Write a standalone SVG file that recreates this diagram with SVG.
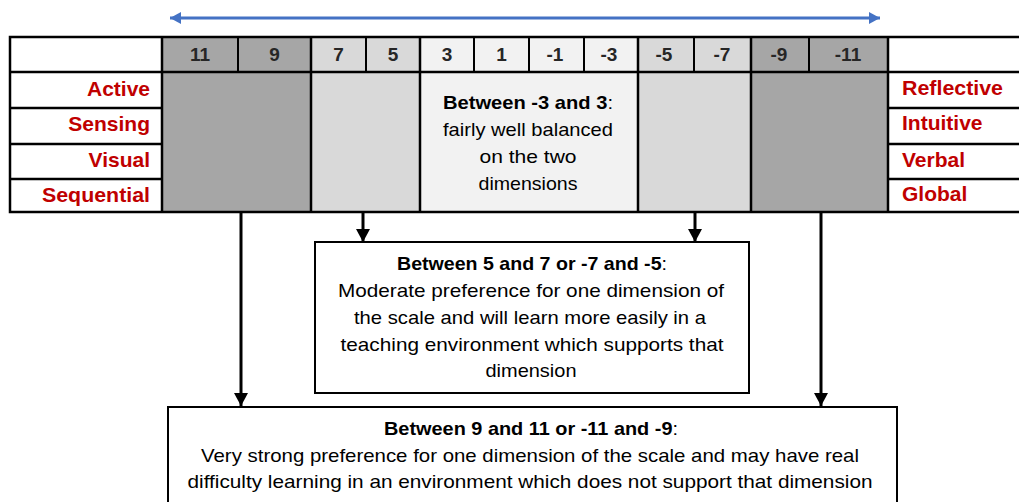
<svg xmlns="http://www.w3.org/2000/svg" width="1019" height="502" viewBox="0 0 1019 502">
<style>
.dark{fill:#a6a6a6}
.light{fill:#d9d9d9}
.pale{fill:#f2f2f2}
.grid{stroke:#000;stroke-width:2.5;fill:none}
.thin{stroke:#000;stroke-width:2;fill:none}
.num{font-family:"Liberation Sans",Arial,sans-serif;font-weight:bold;font-size:19px;fill:#262626;text-anchor:middle}
.lab{font-family:"Liberation Sans",Arial,sans-serif;font-weight:bold;font-size:21px;fill:#c00000}
.body{font-family:"Liberation Sans",Arial,sans-serif;font-size:19px;fill:#000;text-anchor:middle}
.b{font-weight:bold}
.conn{stroke:#000;stroke-width:3;fill:none}
.box{fill:#fff;stroke:#000;stroke-width:2}
</style>
<defs>
<marker id="ah" markerUnits="userSpaceOnUse" markerWidth="14" markerHeight="14" viewBox="0 0 14 14" refX="13" refY="7" orient="auto">
<polygon points="0,0 13,7 0,14" fill="#000"/>
</marker>
<marker id="bh" markerUnits="userSpaceOnUse" markerWidth="12" markerHeight="12" viewBox="0 0 12 12" refX="11" refY="6" orient="auto-start-reverse">
<polygon points="0,0 11,6 0,12" fill="#4472c4"/>
</marker>
</defs>
<rect width="1019" height="502" fill="#fff"/>

<g id="scale-arrow">
<line x1="170" y1="18" x2="880" y2="18" stroke="#4472c4" stroke-width="3" marker-start="url(#bh)" marker-end="url(#bh)"/>
</g>

<g id="table">
<rect class="dark" x="162" y="37" width="149" height="175"/>
<rect class="light" x="311" y="37" width="109" height="175"/>
<rect class="pale" x="420" y="37" width="218" height="175"/>
<rect class="light" x="638" y="37" width="113" height="175"/>
<rect class="dark" x="751" y="37" width="137" height="175"/>
<rect x="10" y="37" width="152" height="175" fill="#fff"/>
<rect x="888" y="37" width="140" height="175" fill="#fff"/>
<path class="grid" d="M1025,37 H10 V212 H1025 M10,72 H1025 M10,108 H162 M10,144 H162 M10,179 H162 M888,108 H1025 M888,144 H1025 M888,179 H1025 M162,37 V212 M311,37 V212 M420,37 V212 M638,37 V212 M751,37 V212 M888,37 V212"/>
<path class="thin" d="M238,37 V72 M366,37 V72 M474,37 V72 M529,37 V72 M584,37 V72 M694,37 V72 M809,37 V72"/>
<text class="num" x="200" y="61">11</text>
<text class="num" x="274.5" y="61">9</text>
<text class="num" x="338.5" y="61">7</text>
<text class="num" x="393" y="61">5</text>
<text class="num" x="447" y="61">3</text>
<text class="num" x="501.5" y="61">1</text>
<text class="num" x="555" y="61">-1</text>
<text class="num" x="609" y="61">-3</text>
<text class="num" x="664" y="61">-5</text>
<text class="num" x="722" y="61">-7</text>
<text class="num" x="779" y="61">-9</text>
<text class="num" x="848" y="61">-11</text>
<text class="lab" x="150" y="96" text-anchor="end">Active</text>
<text class="lab" x="150" y="131" text-anchor="end">Sensing</text>
<text class="lab" x="150" y="167" text-anchor="end">Visual</text>
<text class="lab" x="150" y="202" text-anchor="end" textLength="108" lengthAdjust="spacingAndGlyphs">Sequential</text>
<text class="lab" x="902" y="95" textLength="101" lengthAdjust="spacingAndGlyphs">Reflective</text>
<text class="lab" x="902" y="130">Intuitive</text>
<text class="lab" x="902" y="167">Verbal</text>
<text class="lab" x="902" y="201">Global</text>
</g>

<g id="balanced-note">
<text class="body" x="528" y="109" textLength="170" lengthAdjust="spacingAndGlyphs"><tspan class="b">Between -3 and 3</tspan>:</text>
<text class="body" x="528" y="136" textLength="170" lengthAdjust="spacingAndGlyphs">fairly well balanced</text>
<text class="body" x="528" y="163" textLength="97" lengthAdjust="spacingAndGlyphs">on the two</text>
<text class="body" x="528" y="190" textLength="99" lengthAdjust="spacingAndGlyphs">dimensions</text>
</g>

<g id="connectors">
<line class="conn" x1="241" y1="213" x2="241" y2="406" marker-end="url(#ah)"/>
<line class="conn" x1="363" y1="213" x2="363" y2="242" marker-end="url(#ah)"/>
<line class="conn" x1="695" y1="213" x2="695" y2="242" marker-end="url(#ah)"/>
<line class="conn" x1="821" y1="213" x2="821" y2="406" marker-end="url(#ah)"/>
</g>

<g id="moderate-box">
<rect class="box" x="315" y="242" width="434" height="151"/>
<text class="body" x="532" y="270" textLength="270" lengthAdjust="spacingAndGlyphs"><tspan class="b">Between 5 and 7 or -7 and -5</tspan>:</text>
<text class="body" x="531" y="297" textLength="386" lengthAdjust="spacingAndGlyphs">Moderate preference for one dimension of</text>
<text class="body" x="530" y="324" textLength="352" lengthAdjust="spacingAndGlyphs">the scale and will learn more easily in a</text>
<text class="body" x="532" y="351" textLength="383" lengthAdjust="spacingAndGlyphs">teaching environment which supports that</text>
<text class="body" x="531" y="377" textLength="91" lengthAdjust="spacingAndGlyphs">dimension</text>
</g>

<g id="strong-box">
<rect class="box" x="168" y="407" width="729" height="110"/>
<text class="body" x="531" y="435" textLength="294" lengthAdjust="spacingAndGlyphs"><tspan class="b">Between 9 and 11 or -11 and -9</tspan>:</text>
<text class="body" x="530" y="462" textLength="658" lengthAdjust="spacingAndGlyphs">Very strong preference for one dimension of the scale and may have real</text>
<text class="body" x="530" y="488" textLength="685" lengthAdjust="spacingAndGlyphs">difficulty learning in an environment which does not support that dimension</text>
</g>
</svg>
